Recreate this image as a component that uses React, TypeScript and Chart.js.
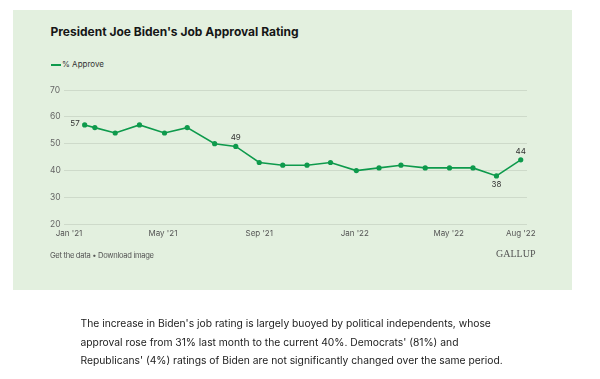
import React, { useEffect, useRef } from "react";
import { Chart, registerables } from "chart.js";

Chart.register(...registerables);

// ---- Data ----
const pollDates = [
  "2021-01-21", "2021-02-03", "2021-03-01", "2021-04-01", "2021-05-03", "2021-06-01",
  "2021-07-06", "2021-08-02", "2021-09-01", "2021-10-01", "2021-11-01", "2021-12-01",
  "2022-01-03", "2022-02-01", "2022-03-01", "2022-04-01", "2022-05-02", "2022-06-01",
  "2022-07-01", "2022-08-01",
];
const approveValues = [57, 56, 54, 57, 54, 56, 50, 49, 43, 42, 42, 43, 40, 41, 42, 41, 41, 41, 38, 44];
const xTickDates = ["2021-01-01", "2021-05-01", "2021-09-01", "2022-01-01", "2022-05-01", "2022-08-01"];
const xTickLabels = ["Jan '21", "May '21", "Sep '21", "Jan '22", "May '22", "Aug '22"];
const yTicks = [20, 30, 40, 50, 60, 70];
const seriesName = "% Approve";

// which points carry a value label and where
const LABEL_PLACEMENT: Record<number, string> = { 0: "left", 7: "above", 18: "below", 19: "above" };

const ORIGIN = Date.UTC(2021, 0, 1);
const toDay = (s: string) => {
  const [y, m, d] = s.split("-").map(Number);
  return (Date.UTC(y, m - 1, d) - ORIGIN) / 86400000;
};

const GREEN = "#0e9a4c";
const SANS = "Inter, 'Noto Sans', sans-serif";

const valueLabelPlugin = {
  id: "valueLabels",
  afterDatasetsDraw(chart: any) {
    const meta = chart.getDatasetMeta(0);
    const ctx = chart.ctx;
    ctx.save();
    ctx.font = `8px ${SANS}`;
    ctx.fillStyle = "#333";
    Object.keys(LABEL_PLACEMENT).forEach((k) => {
      const i = Number(k);
      const pt = meta.data[i];
      if (!pt) return;
      const txt = String(approveValues[i]);
      const place = LABEL_PLACEMENT[i];
      ctx.textBaseline = "middle";
      if (place === "left") {
        ctx.textAlign = "right";
        ctx.fillText(txt, pt.x - 5, pt.y - 1.5);
      } else if (place === "above") {
        ctx.textAlign = "center";
        ctx.fillText(txt, pt.x, pt.y - 8.5);
      } else {
        ctx.textAlign = "center";
        ctx.fillText(txt, pt.x, pt.y + 8.5);
      }
    });
    ctx.restore();
  },
};

function ApprovalChart() {
  const ref = useRef<HTMLCanvasElement | null>(null);
  useEffect(() => {
    if (!ref.current) return;
    const tickDays = xTickDates.map(toDay);
    const chart = new Chart(ref.current, {
      type: "line",
      data: {
        datasets: [
          {
            label: seriesName,
            data: pollDates.map((d, i) => ({ x: toDay(d), y: approveValues[i] })),
            borderColor: GREEN,
            backgroundColor: GREEN,
            borderWidth: 1.6,
            pointRadius: 2.6,
            pointBorderWidth: 0,
            pointBackgroundColor: GREEN,
            tension: 0,
          },
        ],
      },
      options: {
        animation: false,
        responsive: false,
        maintainAspectRatio: false,
        layout: { padding: { left: 50, top: 90, right: 73, bottom: 134.7 } },
        plugins: { legend: { display: false }, tooltip: { enabled: false } },
        scales: {
          x: {
            type: "linear",
            min: -6.4,
            max: 585,
            grid: { display: false, drawTicks: false },
            border: { display: false },
            afterBuildTicks: (scale: any) => {
              scale.ticks = tickDays.map((v) => ({ value: v }));
            },
            afterFit: (scale: any) => {
              scale.height = 20;
            },
            ticks: {
              autoSkip: false,
              maxRotation: 0,
              padding: 4,
              color: "#555",
              font: { family: SANS, size: 8 },
              callback: (v: any) => {
                const idx = tickDays.indexOf(Number(v));
                return idx >= 0 ? xTickLabels[idx] : "";
              },
            },
          },
          y: {
            min: yTicks[0],
            max: yTicks[yTicks.length - 1],
            afterBuildTicks: (scale: any) => {
              scale.ticks = yTicks.map((v) => ({ value: v }));
            },
            afterFit: (scale: any) => {
              scale.width = 14;
            },
            grid: { color: "rgba(0,0,0,0.09)", lineWidth: 1, drawTicks: false },
            border: { display: false },
            ticks: {
              crossAlign: "far",
              padding: 4,
              color: "#666",
              font: { family: SANS, size: 8.5 },
            },
          },
        },
      },
      plugins: [valueLabelPlugin],
    });
    return () => chart.destroy();
  }, []);
  return (
    <canvas
      ref={ref}
      width={600}
      height={379}
      style={{ position: "absolute", left: 0, top: 0, width: 600, height: 379 }}
    />
  );
}

export default function App() {
  return (
    <div
      style={{
        position: "fixed",
        left: 0,
        top: 0,
        width: 600,
        height: 379,
        background: "#fff",
        overflow: "hidden",
        fontFamily: SANS,
      }}
    >
      <div
        style={{
          position: "absolute",
          left: 13,
          top: 10,
          width: 559,
          height: 280,
          background: "#e3f0df",
        }}
      />
      <div
        style={{
          position: "absolute",
          left: 50.5,
          top: 24,
          fontSize: 12,
          lineHeight: "16px",
          fontWeight: 700,
          color: "#161616",
          whiteSpace: "nowrap",
        }}
      >
        President Joe Biden's Job Approval Rating
      </div>
      <div
        style={{
          position: "absolute",
          left: 50.5,
          top: 63.7,
          width: 10,
          height: 2,
          background: GREEN,
        }}
      />
      <div
        style={{
          position: "absolute",
          left: 62,
          top: 59,
          fontSize: 8,
          lineHeight: "11px",
          color: "#333",
          whiteSpace: "nowrap",
        }}
      >
        {seriesName}
      </div>
      <ApprovalChart />
      <div
        style={{
          position: "absolute",
          left: 50,
          top: 250,
          fontSize: 7.6,
          letterSpacing: "-0.3px",
          lineHeight: "11px",
          color: "#555",
          whiteSpace: "nowrap",
        }}
      >
        Get the data • Download image
      </div>
      <div
        style={{
          position: "absolute",
          left: 496,
          top: 247.3,
          fontSize: 10,
          lineHeight: "14px",
          color: "#555",
          fontFamily: "'Liberation Serif', 'DejaVu Serif', serif",
          whiteSpace: "nowrap",
        }}
      >
        GALLUP
      </div>
      <div
        style={{
          position: "absolute",
          left: 80.5,
          top: 314,
          fontSize: 10.3,
          lineHeight: "18.7px",
          color: "#222",
          whiteSpace: "nowrap",
        }}
      >
        The increase in Biden's job rating is largely buoyed by political independents, whose
        <br />
        approval rose from 31% last month to the current 40%. Democrats' (81%) and
        <br />
        Republicans' (4%) ratings of Biden are not significantly changed over the same period.
      </div>
    </div>
  );
}
